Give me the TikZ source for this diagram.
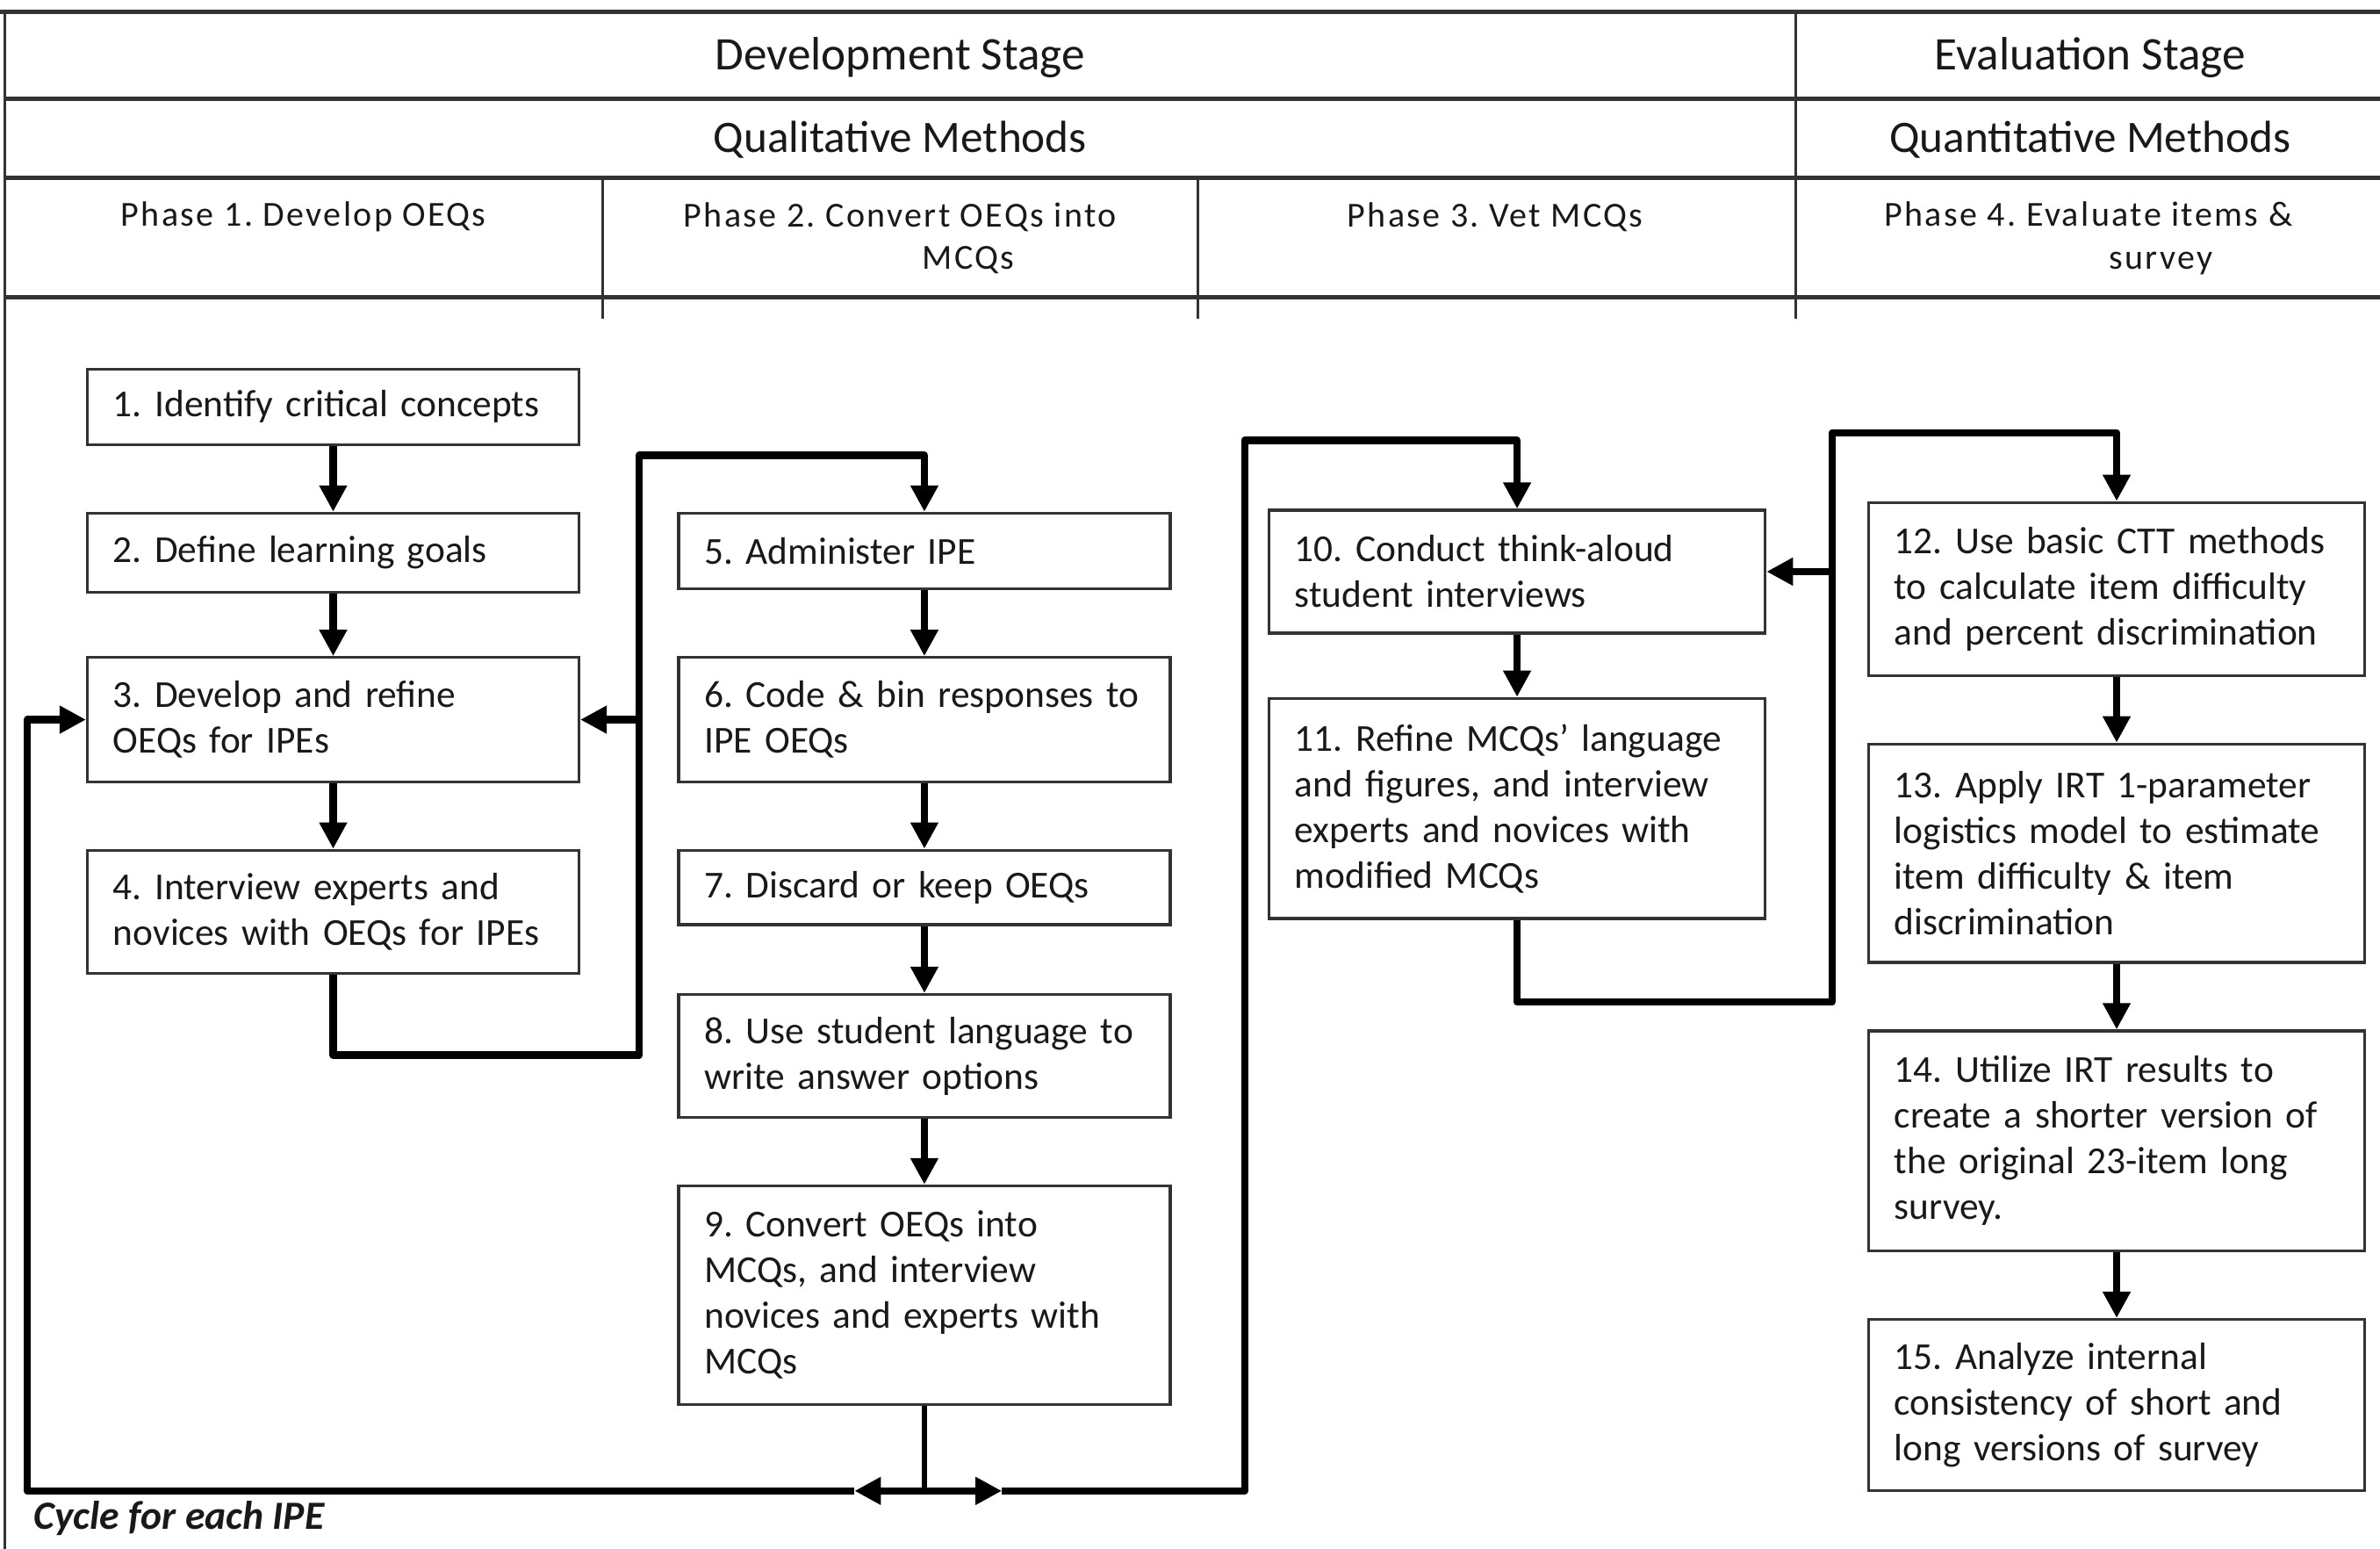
\documentclass[tikz,border=0pt]{standalone}
\usepackage{fontspec}
\setmainfont{Carlito}
\usetikzlibrary{arrows.meta}
\frenchspacing
\hyphenpenalty=10000
\exhyphenpenalty=10000
\begin{document}
\begin{tikzpicture}[x=0.43225pt,y=-0.43225pt,
  boxbase/.style={draw=black!80, line width=0.8pt, fill=white, text=black!90,
    align=left, inner xsep=7.35pt, inner ysep=0pt,
    font=\fontsize{10.85}{13}\selectfont},
  boxA/.style={boxbase, minimum width=140pt, text width=125.3pt},
  boxB/.style={boxbase, minimum width=141.3pt, text width=126.6pt},
  hdr/.style={text=black!90, inner sep=0pt, font=\fontsize{13.3}{15}\selectfont},
  hdrb/.style={hdr, font=\fontsize{12.8}{15}\selectfont},
  phase/.style={text=black!90, inner sep=0pt, align=left,
    font=\fontsize{10}{12.1}\selectfont\addfontfeature{LetterSpace=6}},
  cyc/.style={text=black!90, inner sep=0pt, font=\fontsize{11.4}{13}\selectfont\bfseries\itshape},
  hline/.style={draw=black!80, line width=1.3pt},
  vline/.style={draw=black!80, line width=0.8pt},
  wire/.style={draw=black, line width=2.1pt, line join=round},
  conn/.style={wire, -{Triangle[length=7.5pt,width=7.5pt]}},
  thinwire/.style={draw=black, line width=1.3pt}
]
\fill[white] (0,0) rectangle (1568,1020);
\useasboundingbox (0,0) rectangle (1568,1020);

% ---------- header table ----------
\draw[hline] (0,8) -- (1568,8);
\draw[hline] (3,65) -- (1568,65);
\draw[hline] (3,117) -- (1568,117);
\draw[hline] (3,196) -- (1568,196);
\draw[vline] (3,8) -- (3,1020);
\draw[vline] (1183,8) -- (1183,210);
\draw[vline] (397,117) -- (397,210);
\draw[vline] (789,117) -- (789,210);

\node[hdr] (dev) at (593,38) {Development Stage};
\node[hdr] (eval) at (1377,38) {Evaluation Stage};
\node[hdrb] (qual) at (593,92) {Qualitative Methods};
\node[hdrb] (quant) at (1377,92) {Quantitative Methods};
\node[phase] (p1) at (200,143) {Phase 1. Develop OEQs};
\node[phase, anchor=west] (p2) at (450,157) {Phase 2. Convert OEQs into\\\hspace*{67.9pt}MCQs};
\node[phase] (p3) at (985,143) {Phase 3. Vet MCQs};
\node[phase, anchor=west] (p4) at (1241,157) {Phase 4. Evaluate items \&\\\hspace*{64pt}survey};

% ---------- boxes ----------
\node[boxA, minimum height=21.6pt] (b1) at (219.5,268) {1. Identify critical concepts};
\node[boxA, minimum height=22.5pt] (b2) at (219.5,364) {2. Define learning goals};
\node[boxA, minimum height=35.4pt] (b3) at (219.5,474) {3. Develop and refine\\OEQs for IPEs};
\node[boxA, minimum height=35pt] (b4) at (219.5,600.5) {4. Interview experts and\\novices with OEQs for IPEs};

\node[boxA, minimum height=21.6pt] (b5) at (609,363) {5. Administer IPE};
\node[boxA, minimum height=35.4pt] (b6) at (609,474) {6. Code \& bin responses to\\IPE OEQs};
\node[boxA, minimum height=21.2pt] (b7) at (609,584.5) {7. Discard or keep OEQs};
\node[boxA, minimum height=35pt] (b8) at (609,695.5) {8. Use student language to\\write answer options};
\node[boxA, minimum height=62.2pt] (b9) at (609,853) {9. Convert OEQs into\\MCQs, and interview\\novices and experts with\\MCQs};

\node[boxB, minimum height=35pt] (b10) at (999.5,376.5) {10. Conduct think-aloud\\student interviews};
\node[boxB, minimum height=62.7pt] (b11) at (999.5,532.5) {11. Refine MCQs’ language\\and figures, and interview\\experts and novices with\\modified MCQs};

\node[boxB, minimum height=49.3pt] (b12) at (1394.5,388) {12. Use basic CTT methods\\to calculate item difficulty\\and percent discrimination};
\node[boxB, minimum height=62.2pt] (b13) at (1394.5,562) {13. Apply IRT 1-parameter\\logistics model to estimate\\item difficulty \& item\\discrimination};
\node[boxB, minimum height=62.7pt] (b14) at (1394.5,751.5) {14. Utilize IRT results to\\create a shorter version of\\the original 23-item long\\survey.};
\node[boxB, minimum height=48.8pt] (b15) at (1394.5,925.5) {15. Analyze internal\\consistency of short and\\long versions of survey};

\node[cyc, anchor=west] (cyc) at (22,1000) {Cycle for each IPE};

% ---------- connectors ----------
\draw[conn] (b1) -- (b2);
\draw[conn] (b2) -- (b3);
\draw[conn] (b3) -- (b4);
\draw[conn] (b5) -- (b6);
\draw[conn] (b6) -- (b7);
\draw[conn] (b7) -- (b8);
\draw[conn] (b8) -- (b9);
\draw[conn] (b10) -- (b11);
\draw[conn] (b12) -- (b13);
\draw[conn] (b13) -- (b14);
\draw[conn] (b14) -- (b15);

% 4 -> 5, with branch back to 3
\coordinate (c4b) at (421,695);
\coordinate (c4c) at (421,300);
\draw[conn] (b4.south) |- (c4b) -- (c4c) -| (b5.north);
\draw[conn] (c4b |- b3.east) -- (b3.east);

% 11 -> 12, with branch back to 10
\coordinate (c11b) at (1207,660);
\coordinate (c11c) at (1207,285);
\draw[conn] (b11.south) |- (c11b) -- (c11c) -| (b12.north);
\draw[conn] (c11b |- b10.east) -- (b10.east);

% cycle from 9
\coordinate (jn) at (609,982);
\coordinate (la) at (563,982);
\coordinate (ra) at (660,982);
\coordinate (lc) at (18,982);
\coordinate (rc) at (820,982);
\coordinate (rt) at (820,290);
\draw[thinwire] (b9.south) -- (jn);
\draw[conn] (jn) -- (la);
\draw[conn] (jn) -- (ra);
\draw[conn] (la) -- (lc) |- (b3.west);
\draw[conn] (ra) -- (rc) -- (rt) -| (b10.north);
\end{tikzpicture}
\end{document}
